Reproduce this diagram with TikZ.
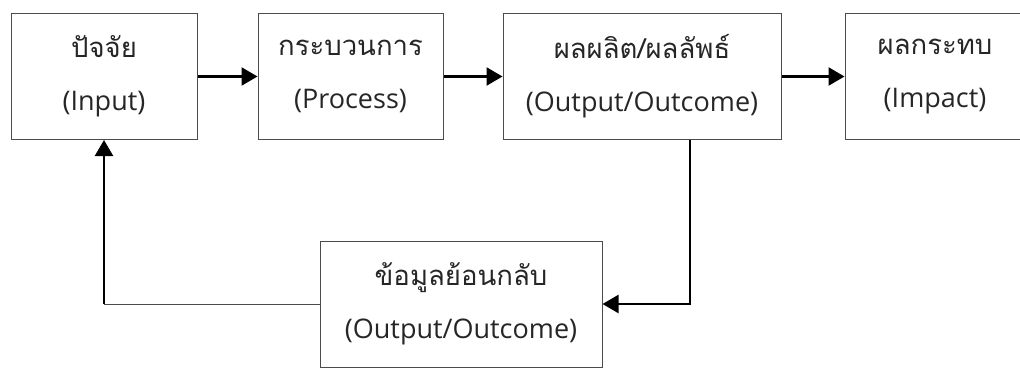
\documentclass[tikz,border=0pt]{standalone}
\usepackage{fontspec}
\setmainfont{Open Sans}
\newfontfamily\thaifont[Script=Thai]{Loma}
\usetikzlibrary{arrows.meta}
\newcommand\thword[1]{{\thaifont\fontsize{27.5}{30}\selectfont #1}}
\begin{document}
\begin{tikzpicture}[x=1pt,y=-1pt,
    box/.style={draw=black!70, line width=1pt, align=center, text=black!85,
                font={\fontsize{27}{53}\selectfont}},
    flow/.style={line width=2.4pt, -{Triangle[length=16pt,width=18pt]}}]
  \useasboundingbox (0,0) rectangle (1020,369);
  \node[box, minimum width=186, minimum height=126] (input) at (104,76.5) {\thword{ปัจจัย}\\(Input)};
  \node[box, minimum width=185, minimum height=126] (process) at (350.5,76.5) {\thword{กระบวนการ}\\(Process)};
  \node[box, minimum width=278, minimum height=126] (output) at (642,76.5) {\thword{ผลผลิต/ผลลัพธ์}\\(Output/Outcome)};
  \node[box, minimum width=180, minimum height=126] (impact) at (935,76.5) {\thword{ผลกระทบ}\\(Impact)};
  \node[box, minimum width=282, minimum height=126] (feedback) at (461,304) {\thword{ข้อมูลย้อนกลับ}\\(Output/Outcome)};
  \coordinate (turn) at (690,302);
  \draw[flow] (input) -- (process);
  \draw[flow] (process) -- (output);
  \draw[flow] (output) -- (impact);
  \draw[flow] (output.south -| turn) |- (feedback.east);
  % feedback back to the input
  \draw[line width=1pt, black!70] (feedback.west) -- (feedback.west -| input.south);
  \draw[flow] (feedback.west -| input.south) -- (input.south);
\end{tikzpicture}
\end{document}
